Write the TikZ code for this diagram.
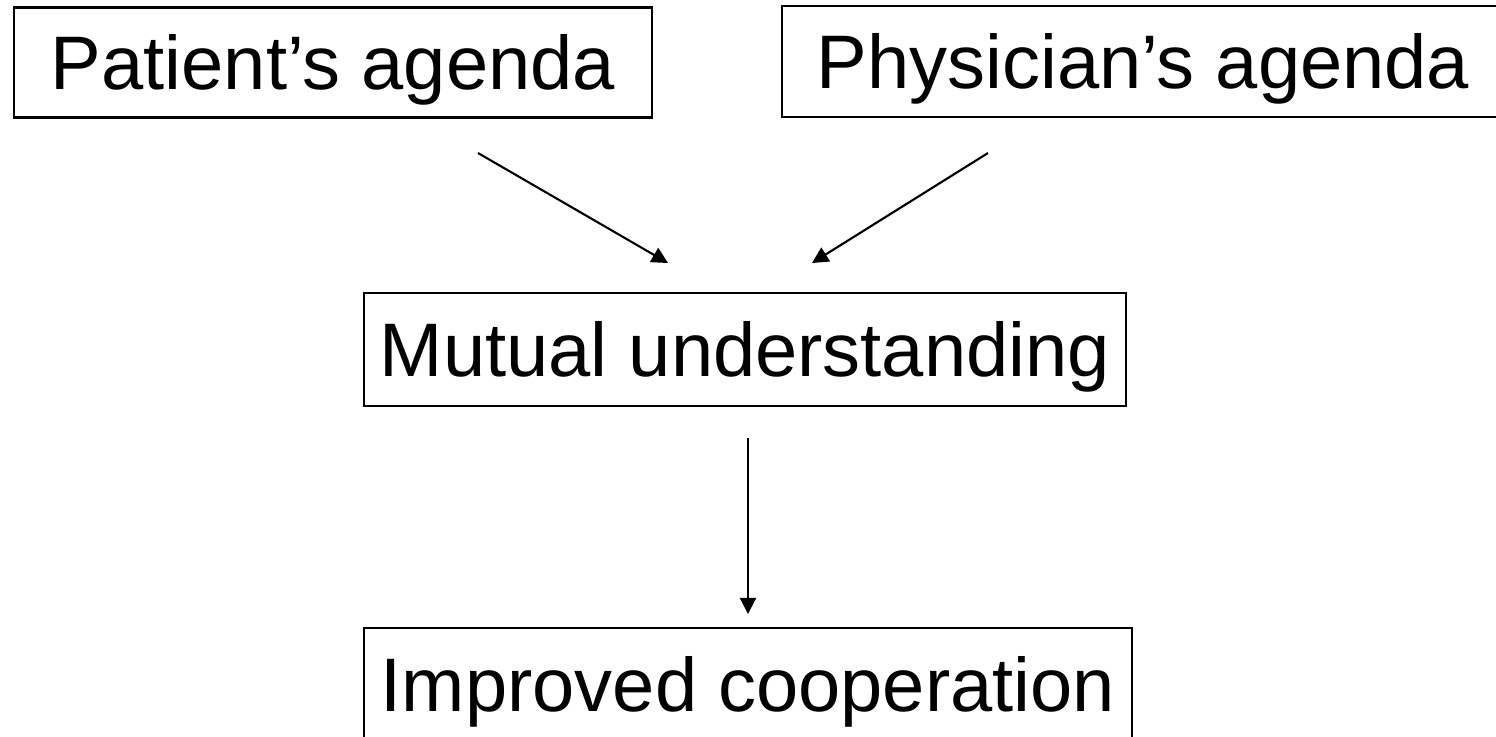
\documentclass[tikz,border=0pt]{standalone}
\usepackage{fontspec}
\setmainfont{Liberation Sans}
\usetikzlibrary{arrows.meta}

\tikzset{
  agendabox/.style={draw, line width=0.6pt, inner sep=0pt, text height=20pt, text depth=4.8pt, font=\fontsize{21.6}{26}\selectfont},
  flow/.style={line width=0.6pt, -{Triangle[length=4.6pt,width=4.6pt]}}
}

\begin{document}
\begin{tikzpicture}
		\useasboundingbox (0, 0) rectangle (14.96, -7.36);
		
		\node[agendabox, minimum width=6.38cm, minimum height=1.10cm] (pat) at (3.33, -0.625) {Patient’s agenda};
		\node[agendabox, minimum width=7.22cm, minimum height=1.11cm] (phys) at (11.43, -0.615) {Physician’s agenda};
		\node[agendabox, minimum width=7.62cm, minimum height=1.13cm] (mut) at (7.45, -3.495) {Mutual understanding};
		\node[agendabox, minimum width=7.68cm, minimum height=1.13cm] (coop) at (7.48, -6.845) {Improved cooperation};
		
		\coordinate (patout) at (4.78, -1.53);
		\coordinate (physout) at (9.88, -1.53);
		\coordinate (mutinl) at (6.68, -2.63);
		\coordinate (mutinr) at (8.12, -2.63);
		\coordinate (mutout) at (7.48, -4.38);
		\coordinate (coopin) at (7.48, -6.14);
		
		\draw [flow] (patout) -- (mutinl);
		\draw [flow] (physout) -- (mutinr);
		\draw [flow] (mutout) -- (coopin);
		
	\end{tikzpicture}
\end{document}
